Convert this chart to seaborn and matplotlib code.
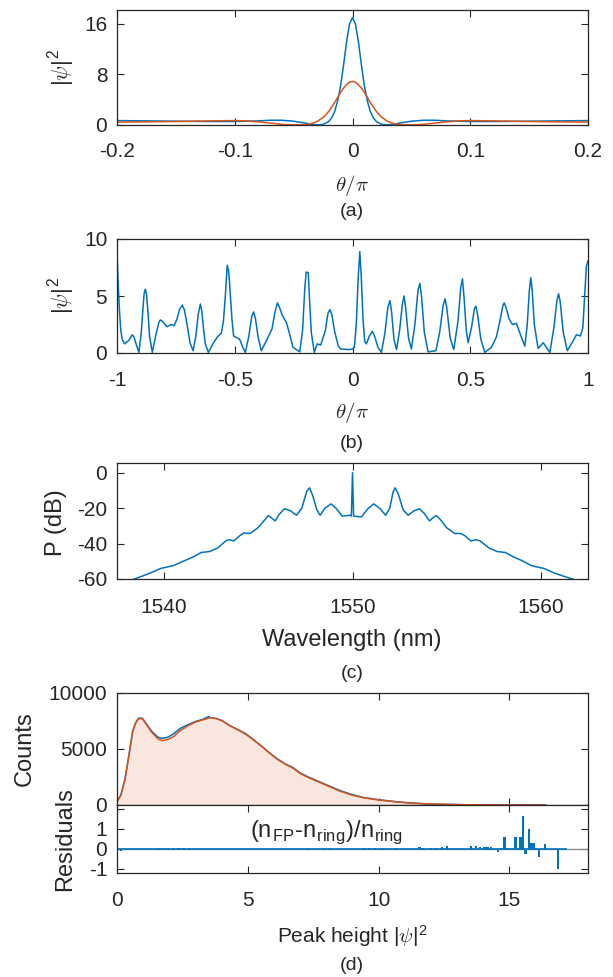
import numpy as np
import matplotlib
matplotlib.use('Agg')
import matplotlib.pyplot as plt
import seaborn as sns

# ---------------- data ----------------
# (a) single-soliton profiles
theta_a = [-0.2, -0.15, -0.12, -0.1, -0.09, -0.08, -0.07, -0.06, -0.05, -0.04, -0.035, -0.03,
           -0.025, -0.0225, -0.02, -0.0175, -0.015, -0.0125, -0.01, -0.0075, -0.005, -0.0025,
           0.0, 0.0025, 0.005, 0.0075, 0.01, 0.0125, 0.015, 0.0175, 0.02, 0.0225, 0.025,
           0.03, 0.035, 0.04, 0.05, 0.06, 0.07, 0.08, 0.09, 0.1, 0.12, 0.15, 0.2]
psi_a_blue = [0.7, 0.6, 0.55, 0.55, 0.6, 0.65, 0.75, 0.75, 0.6, 0.3, 0.1, 0.02,
              0.1, 0.3, 0.6, 1.2, 2.2, 3.9, 6.3, 9.6, 13.2, 16.0,
              17.0, 16.0, 13.2, 9.6, 6.3, 3.9, 2.2, 1.2, 0.6, 0.3, 0.1,
              0.02, 0.1, 0.3, 0.6, 0.75, 0.75, 0.65, 0.6, 0.55, 0.55, 0.6, 0.7]
psi_a_orange = [0.45, 0.55, 0.65, 0.7, 0.65, 0.5, 0.3, 0.1, 0.02, 0.05, 0.2, 0.55,
                1.2, 1.65, 2.2, 2.9, 3.6, 4.4, 5.2, 5.85, 6.4, 6.78,
                6.9, 6.78, 6.4, 5.85, 5.2, 4.4, 3.6, 2.9, 2.2, 1.65, 1.2,
                0.55, 0.2, 0.05, 0.02, 0.1, 0.3, 0.5, 0.65, 0.7, 0.65, 0.55, 0.45]

# (b) field intensity around the ring
theta_b = [-1.0, -0.995, -0.99, -0.984, -0.978, -0.968, -0.95, -0.935, -0.928, -0.922,
           -0.907, -0.897, -0.89, -0.885, -0.88, -0.875, -0.868, -0.862, -0.85, -0.835,
           -0.822, -0.816, -0.808, -0.8, -0.788, -0.77, -0.757, -0.745, -0.735, -0.723,
           -0.714, -0.705, -0.69, -0.677, -0.665, -0.655, -0.646, -0.64, -0.632, -0.625,
           -0.612, -0.59, -0.574, -0.557, -0.548, -0.54, -0.532, -0.526, -0.52, -0.512,
           -0.505, -0.479, -0.466, -0.455, -0.44, -0.428, -0.42, -0.412, -0.4, -0.387,
           -0.365, -0.342, -0.33, -0.319, -0.31, -0.3, -0.29, -0.281, -0.265, -0.253,
           -0.224, -0.212, -0.203, -0.197, -0.188, -0.182, -0.175, -0.162, -0.15, -0.135,
           -0.115, -0.104, -0.096, -0.088, -0.075, -0.06, -0.05, -0.012, 0.0, 0.008,
           0.016, 0.024, 0.031, 0.037, 0.045, 0.052, 0.059, 0.072, 0.085, 0.095,
           0.108, 0.123, 0.138, 0.15, 0.159, 0.166, 0.176, 0.187, 0.2, 0.212,
           0.219, 0.226, 0.238, 0.25, 0.265, 0.278, 0.286, 0.293, 0.305, 0.321,
           0.354, 0.37, 0.385, 0.393, 0.4, 0.415, 0.43, 0.448, 0.46, 0.467,
           0.474, 0.483, 0.491, 0.505, 0.518, 0.524, 0.531, 0.545, 0.562, 0.59,
           0.611, 0.628, 0.638, 0.644, 0.652, 0.665, 0.679, 0.696, 0.715, 0.732,
           0.742, 0.751, 0.757, 0.763, 0.772, 0.788, 0.81, 0.838, 0.855, 0.868,
           0.875, 0.882, 0.895, 0.912, 0.935, 0.951, 0.968, 0.978, 0.986, 0.993,
           1.0]
psi_b = [8.9, 6.0, 3.9, 2.0, 1.2, 0.8, 1.1, 1.6, 1.4, 1.0,
         0.05, 1.8, 3.8, 5.2, 5.6, 5.2, 3.5, 1.5, 0.05, 1.6,
         2.7, 2.9, 2.8, 2.6, 2.3, 2.5, 2.4, 3.0, 3.8, 4.2,
         3.8, 2.8, 0.9, 0.2, 1.5, 3.4, 4.3, 3.7, 2.0, 0.8,
         0.05, 0.9, 1.4, 1.75, 2.8, 5.0, 7.7, 7.2, 5.5, 3.0,
         1.5, 1.2, 0.5, 0.05, 1.5, 3.2, 3.6, 3.0, 1.3, 0.2,
         1.1, 2.1, 3.5, 4.4, 4.0, 3.4, 3.0, 2.7, 1.5, 0.5,
         0.1, 2.0, 5.5, 7.1, 7.05, 4.5, 1.8, 0.05, 0.8, 0.7,
         2.0, 3.5, 3.8, 3.4, 1.8, 0.6, 0.35, 0.3, 0.35, 0.5,
         2.5, 6.5, 8.9, 6.8, 2.8, 1.0, 0.8, 1.5, 1.9, 1.4,
         0.5, 0.05, 1.8, 4.0, 4.6, 3.6, 1.2, 0.3, 2.0, 4.3,
         5.0, 3.9, 1.3, 0.35, 2.5, 5.5, 6.1, 5.0, 1.8, 0.1,
         0.2, 1.8, 4.2, 4.75, 4.0, 1.3, 0.3, 2.8, 5.8, 6.5,
         4.8, 2.0, 0.9, 2.2, 3.9, 4.1, 3.4, 1.2, 0.05, 0.5,
         1.4, 3.0, 4.1, 4.4, 4.0, 3.0, 2.5, 2.6, 1.5, 0.6,
         2.5, 5.5, 6.6, 5.5, 2.5, 0.4, 0.9, 0.05, 2.2, 4.6,
         5.2, 4.5, 1.8, 0.2, 1.0, 1.6, 1.5, 2.2, 5.0, 7.6,
         8.1]

# (c) optical spectrum
wl_c = [1538.0, 1538.43, 1539.18, 1539.83, 1540.47, 1541.12, 1541.55, 1541.98, 1542.41, 1542.84,
        1543.27, 1543.44, 1543.70, 1544.02, 1544.24, 1544.56, 1544.99, 1545.31, 1545.53, 1545.70,
        1545.89, 1546.11, 1546.39, 1546.71, 1547.03, 1547.31, 1547.57, 1547.72, 1547.89, 1548.11,
        1548.28, 1548.54, 1548.86, 1549.12, 1549.46, 1549.87, 1549.94, 1550.0, 1550.06, 1550.47,
        1550.80, 1551.12, 1551.44, 1551.76, 1551.98, 1552.15, 1552.26, 1552.43, 1552.69, 1552.95,
        1553.27, 1553.55, 1553.81, 1554.09, 1554.26, 1554.45, 1554.67, 1554.99, 1555.42, 1555.74,
        1555.96, 1556.28, 1556.56, 1556.77, 1557.25, 1557.68, 1558.11, 1558.54, 1558.97, 1559.51,
        1560.15, 1560.80, 1561.66, 1562.1]
p_db = [-61.5, -60, -57, -54, -52.5, -49.5, -47.5, -45, -44.5, -42.5,
        -38.5, -37.8, -38.5, -35.5, -34, -34.3, -31, -27, -24.2, -25.5,
        -27.2, -23.5, -20.3, -21.5, -24, -20, -10.5, -8.5, -13, -21,
        -24, -20, -17.6, -20, -24.5, -24, -24.5, 0, -24.5, -25,
        -20.5, -17.6, -20, -24, -20, -11, -8.5, -12, -21, -24,
        -21.5, -20.3, -23, -27.2, -25.5, -24.2, -26.5, -31, -34.3, -34.3,
        -35.5, -38.5, -37.8, -38.5, -42.5, -44.5, -45, -47.5, -49.5, -52.5,
        -54, -57, -60, -61.5]

# (d) peak-height histogram: FP (blue) and ring (orange)
peak_h = [0.0, 0.04, 0.15, 0.3, 0.45, 0.6, 0.72, 0.82, 0.97, 1.12,
          1.34, 1.57, 1.72, 1.94, 2.16, 2.39, 2.69, 2.99, 3.28, 3.5,
          3.58, 3.81, 4.03, 4.33, 4.63, 4.93, 5.22, 5.52, 5.82, 6.12,
          6.42, 6.72, 7.01, 7.31, 7.61, 7.91, 8.21, 8.51, 8.96, 9.40,
          10.0, 10.6, 11.2, 11.9, 12.7, 13.4, 14.9, 16.4]
counts_fp = [300, 450, 900, 2250, 4350, 6600, 7380, 7750, 7750, 7250,
             6550, 6050, 5950, 6050, 6350, 6800, 7150, 7450, 7650, 7900,
             7800, 7720, 7520, 7070, 6720, 6350, 5830, 5270, 4680, 4130,
             3680, 3350, 2850, 2500, 2200, 1900, 1600, 1300, 950, 680,
             470, 310, 185, 92, 50, 20, 5, 0]
counts_ring = [300, 450, 900, 2250, 4350, 6600, 7350, 7700, 7700, 7200,
               6450, 5900, 5750, 5850, 6100, 6600, 7050, 7400, 7600, 7750,
               7800, 7700, 7500, 7050, 6700, 6300, 5800, 5250, 4650, 4100,
               3650, 3300, 2800, 2450, 2150, 1850, 1550, 1250, 900, 650,
               450, 300, 180, 90, 50, 20, 5, 0]

# (d) residuals (n_FP - n_ring)/n_ring per bin
res_x = [0.05, 0.15, 0.25, 0.35, 0.45, 0.55, 1.55, 1.75, 1.95, 2.15, 2.35, 2.55, 2.75,
         6.65, 7.25, 7.35, 7.95, 8.15, 9.45, 9.63, 9.85, 10.14, 10.25, 10.67, 11.56, 11.69,
         12.01, 12.20, 12.43, 12.61, 12.74, 12.96, 13.32, 13.54, 13.73, 13.86, 14.01, 14.09,
         14.17, 14.30, 14.55, 14.68, 14.81, 14.94, 15.23, 15.36, 15.42, 15.53, 15.61, 15.74,
         15.84, 15.92, 16.12, 16.34, 16.84]
res_y = [-0.07, -0.08, -0.06, -0.07, -0.05, -0.04, 0.03, 0.02, 0.04, 0.03, 0.04, 0.03, 0.03,
         -0.04, -0.05, 0.03, 0.04, 0.03, 0.03, 0.05, 0.04, 0.04, -0.03, 0.05, 0.08, 0.05,
         0.04, 0.06, 0.11, 0.16, -0.05, 0.04, -0.06, 0.15, 0.13, 0.08, 0.1, 0.08,
         0.12, 0.09, -0.15, 0.05, 0.6, 0.05, 0.6, 0.05, 0.6, 1.65, -0.25, 1.0,
         0.3, 0.3, -0.4, 0.25, -1.0]

# ---------------- style ----------------
sns.set_theme(style='ticks')
plt.rcParams['font.family'] = ['Liberation Sans', 'DejaVu Sans']
plt.rcParams['mathtext.fontset'] = 'cm'
plt.rcParams['axes.unicode_minus'] = False

BLUE = '#0072BD'
ORANGE = '#D95319'
FILL = '#F9E6DE'
DARK = '#262626'

W, H = 613, 977
fig = plt.figure(figsize=(W / 100, H / 100), dpi=100)


def px_axes(left, top, right, bottom):
    return fig.add_axes([left / W, 1 - bottom / H, (right - left) / W, (bottom - top) / H])


def ftxt(x, y, s, size, rot=0):
    fig.text(x / W, 1 - y / H, s, ha='center', va='center', fontsize=size,
             rotation=rot, color=DARK)


def style(ax, xpad, ypad=7, fs=15):
    ax.tick_params(direction='in', top=True, right=True, length=5, width=0.8,
                   color=DARK, labelcolor=DARK, labelsize=fs)
    ax.tick_params(axis='x', pad=xpad)
    ax.tick_params(axis='y', pad=ypad)
    for s in ax.spines.values():
        s.set_color(DARK)
        s.set_linewidth(0.9)
    ax.set_xlabel('')
    ax.set_ylabel('')


psi_lbl = r'|$\psi$|$^{\mathregular{2}}$'

# ---------------- (a) ----------------
ax_a = px_axes(117, 10, 588, 125)
sns.lineplot(x=theta_a, y=psi_a_blue, ax=ax_a, color=BLUE, lw=1.1)
sns.lineplot(x=theta_a, y=psi_a_orange, ax=ax_a, color=ORANGE, lw=1.1)
ax_a.set_xlim(-0.2, 0.2)
ax_a.set_ylim(0, 18.2)
ax_a.set_xticks([-0.2, -0.1, 0, 0.1, 0.2])
ax_a.set_xticklabels(['-0.2', '-0.1', '0', '0.1', '0.2'])
ax_a.set_yticks([0, 8, 16])
style(ax_a, 12)
ftxt(62, 68, psi_lbl, 16, 90)
ftxt(352, 185, r'$\theta/\pi$', 15)
ftxt(352, 212, '(a)', 14)

# ---------------- (b) ----------------
ax_b = px_axes(117, 239, 588, 353)
sns.lineplot(x=theta_b, y=psi_b, ax=ax_b, color=BLUE, lw=1.1)
ax_b.set_xlim(-1, 1)
ax_b.set_ylim(0, 10)
ax_b.set_xticks([-1, -0.5, 0, 0.5, 1])
ax_b.set_xticklabels(['-1', '-0.5', '0', '0.5', '1'])
ax_b.set_yticks([0, 5, 10])
style(ax_b, 13)
ftxt(62, 296, psi_lbl, 16, 90)
ftxt(352, 412, r'$\theta/\pi$', 15)
ftxt(352, 443, '(b)', 14)

# ---------------- (c) ----------------
ax_c = px_axes(117, 463, 588, 579)
sns.lineplot(x=wl_c, y=p_db, ax=ax_c, color=BLUE, lw=1.1)
ax_c.set_xlim(1537.5, 1562.5)
ax_c.set_ylim(-60, 5.5)
ax_c.set_xticks([1540, 1550, 1560])
ax_c.set_yticks([-60, -40, -20, 0])
style(ax_c, 14)
ftxt(56, 523, 'P (dB)', 17, 90)
ftxt(352, 640, 'Wavelength (nm)', 17)
ftxt(352, 673, '(c)', 14)

# ---------------- (d) counts ----------------
ax_d = px_axes(117, 693, 588, 805)
ax_d.fill_between(peak_h, counts_ring, color=FILL, lw=0)
sns.lineplot(x=peak_h, y=counts_fp, ax=ax_d, color=BLUE, lw=1.1)
sns.lineplot(x=peak_h, y=counts_ring, ax=ax_d, color=ORANGE, lw=1.1)
ax_d.set_xlim(0, 18)
ax_d.set_ylim(0, 10000)
ax_d.set_xticks([0, 5, 10, 15])
ax_d.set_yticks([0, 5000, 10000])
style(ax_d, 13)
ax_d.tick_params(axis='x', labelbottom=False)
ftxt(25, 749, 'Counts', 17, 90)

# ---------------- (d) residuals ----------------
ax_r = px_axes(117, 805, 588, 873)
ax_r.axhline(0, color='#8c8c8c', lw=1.0)
ax_r.hlines(0, 0, 17.2, color=BLUE, lw=1.2)
ax_r.bar(res_x, res_y, width=0.08, color=BLUE, lw=0)
ax_r.set_xlim(0, 18)
ax_r.set_ylim(-1.2, 2.2)
ax_r.set_xticks([0, 5, 10, 15])
ax_r.set_yticks([-1, 0, 1, 2])
ax_r.set_yticklabels(['-1', '0', '1', ''])
style(ax_r, 13)
ax_r.text(8.02, 0.6, r'(n$_{\mathregular{FP}}$-n$_{\mathregular{ring}}$)/n$_{\mathregular{ring}}$',
          ha='center', va='baseline', fontsize=17, color=DARK)
ftxt(65, 839, 'Residuals', 17, 90)
ftxt(352, 937, 'Peak height ' + psi_lbl, 15)
ftxt(352, 965, '(d)', 14)

fig.savefig('out.png', dpi=100)
